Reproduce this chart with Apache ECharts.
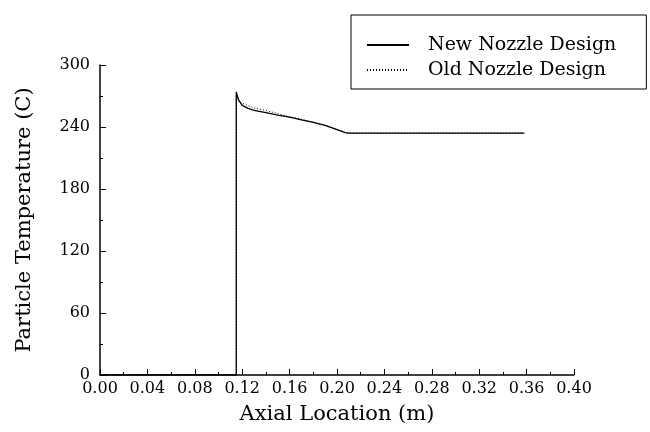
<!DOCTYPE html>
<html>
<head>
<meta charset="utf-8">
<script src="https://cdn.jsdelivr.net/npm/echarts@6/dist/echarts.min.js"></script>
<style>html,body{margin:0;padding:0;background:#fff;}#c{width:650px;height:432px;}</style>
</head>
<body>
<div id="c"></div>
<script>
var seriesNames = ['New Nozzle Design', 'Old Nozzle Design'];
var newX = [0, 0.115, 0.115, 0.117, 0.120, 0.125, 0.130, 0.140, 0.150, 0.160, 0.170, 0.180, 0.190, 0.200, 0.207, 0.210, 0.358];
var newY = [0, 0, 274, 266, 261, 258, 256, 254, 251.5, 249.5, 247, 244.5, 241.5, 237.5, 234.5, 234, 234];
var oldX = [0, 0.115, 0.115, 0.117, 0.120, 0.125, 0.130, 0.140, 0.150, 0.160, 0.170, 0.180, 0.190, 0.200, 0.207, 0.210, 0.358];
var oldY = [0, 0, 270, 265, 263, 260.5, 258.5, 256, 253, 250, 247.5, 244.5, 241.5, 237.5, 234.5, 234, 234];
var xTicks = { min: 0, max: 0.40, interval: 0.04 };
var yTicks = { min: 0, max: 300, interval: 60 };
var xTitle = 'Axial Location (m)';
var yTitle = 'Particle Temperature (C)';

function pairs(xs, ys) { return xs.map(function (x, i) { return [x, ys[i]]; }); }

var font = 'DejaVu Serif';
var chart = echarts.init(document.getElementById('c'));
chart.setOption({
  backgroundColor: '#fff',
  animation: false,
  grid: { left: 100, right: 76, top: 65, bottom: 57 },
  legend: {
    left: 351, top: 15,
    orient: 'vertical',
    borderColor: '#000', borderWidth: 1,
    padding: [20, 30, 9, 15],
    itemWidth: 42, itemHeight: 10, itemGap: 5,
    itemStyle: { opacity: 0 },
    textStyle: { fontFamily: font, fontSize: 19, color: '#000', lineHeight: 20, padding: [0, 0, 0, 14] },
    data: seriesNames
  },
  xAxis: {
    type: 'value', min: xTicks.min, max: xTicks.max, interval: xTicks.interval,
    name: xTitle, nameLocation: 'middle', nameGap: 29,
    nameTextStyle: { fontFamily: font, fontSize: 21, color: '#000' },
    axisLine: { lineStyle: { color: '#000', width: 1.5 } },
    axisTick: { inside: true, length: 6, lineStyle: { color: '#000' } },
    minorTick: { show: true, splitNumber: 2, length: 3, lineStyle: { color: '#000' } },
    axisLabel: { fontFamily: font, fontSize: 16, color: '#000', margin: 6, formatter: function (v) { return v.toFixed(2); } },
    splitLine: { show: false }
  },
  yAxis: {
    type: 'value', min: yTicks.min, max: yTicks.max, interval: yTicks.interval,
    name: yTitle, nameLocation: 'middle', nameGap: 65,
    nameTextStyle: { fontFamily: font, fontSize: 21, color: '#000' },
    axisLine: { show: true, lineStyle: { color: '#000', width: 1.5 } },
    axisTick: { show: true, inside: true, length: 6, lineStyle: { color: '#000' } },
    minorTick: { show: true, splitNumber: 2, length: 3, lineStyle: { color: '#000' } },
    axisLabel: { fontFamily: font, fontSize: 16, color: '#000', margin: 10 },
    splitLine: { show: false }
  },
  series: [
    { name: seriesNames[0], type: 'line', data: pairs(newX, newY), showSymbol: false, symbol: 'none',
      lineStyle: { color: '#000', width: 1.3, type: 'solid' }, itemStyle: { color: '#000' }, z: 3 },
    { name: seriesNames[1], type: 'line', data: pairs(oldX, oldY), showSymbol: false, symbol: 'none',
      lineStyle: { color: '#000', width: 1, type: [1, 2] }, itemStyle: { color: '#000' }, z: 2 }
  ]
});
</script>
</body>
</html>
